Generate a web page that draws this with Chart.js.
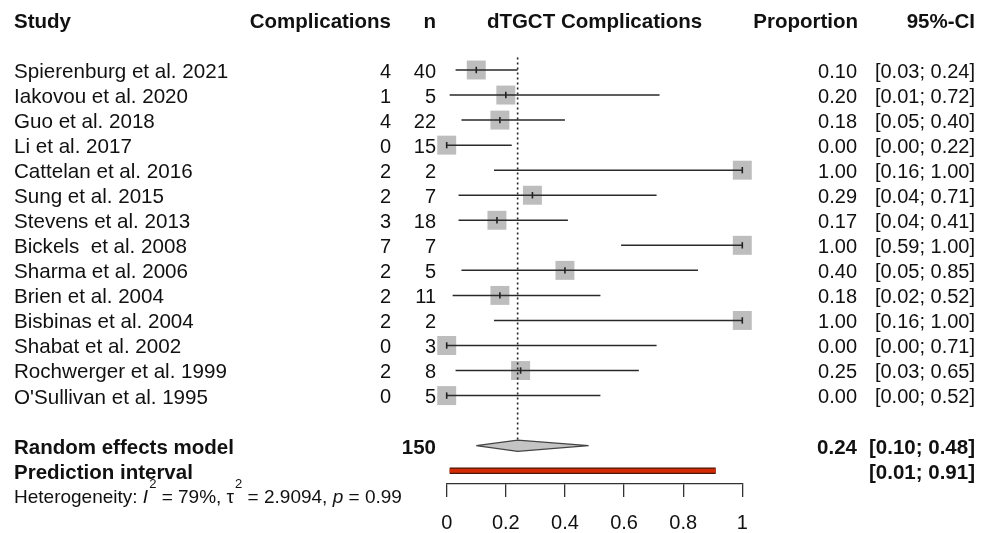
<!DOCTYPE html>
<html>
<head>
<meta charset="utf-8">
<script src="https://cdn.jsdelivr.net/npm/chart.js@4.4.1/dist/chart.umd.min.js"></script>
<style>
  html, body { margin: 0; padding: 0; background: #fff; }
  #wrap { position: relative; width: 993px; height: 533px; }
</style>
</head>
<body>
<div id="wrap"><canvas id="chart"></canvas></div>
<script>
// study rows, top to bottom
const studies = [
  'Spierenburg et al. 2021', 'Iakovou et al. 2020', 'Guo et al. 2018', 'Li et al. 2017',
  'Cattelan et al. 2016', 'Sung et al. 2015', 'Stevens et al. 2013', 'Bickels  et al. 2008',
  'Sharma et al. 2006', 'Brien et al. 2004', 'Bisbinas et al. 2004', 'Shabat et al. 2002',
  'Rochwerger et al. 1999', "O'Sullivan et al. 1995"
];
const events = [4, 1, 4, 0, 2, 2, 3, 7, 2, 2, 2, 0, 2, 0];
const totals = [40, 5, 22, 15, 2, 7, 18, 7, 5, 11, 2, 3, 8, 5];
const proportion = [0.10, 0.20, 0.18, 0.00, 1.00, 0.29, 0.17, 1.00, 0.40, 0.18, 1.00, 0.00, 0.25, 0.00];
const ciLower = [0.03, 0.01, 0.05, 0.00, 0.16, 0.04, 0.04, 0.59, 0.05, 0.02, 0.16, 0.00, 0.03, 0.00];
const ciUpper = [0.24, 0.72, 0.40, 0.22, 1.00, 0.71, 0.41, 1.00, 0.85, 0.52, 1.00, 0.71, 0.65, 0.52];

// pooled estimate + prediction interval
const reEstimate = 0.24;
const reLower = 0.10;
const reUpper = 0.48;
const piLower = 0.01;
const piUpper = 0.91;

// heterogeneity stats
const i2 = '79%';
const tau2 = '2.9094';
const pValue = '0.99';

const xTicks = [0, 0.2, 0.4, 0.6, 0.8, 1];

const FONT = '"Liberation Sans", Arial, Helvetica, sans-serif';
const reRow = studies.length + 1;
const piRow = studies.length + 2;
const diamondHalf = 0.225;

// one line dataset for all CIs, broken by null points
const ciData = [];
studies.forEach((s, i) => {
  ciData.push({ x: ciLower[i], y: i }, { x: ciUpper[i], y: i }, { x: null, y: null });
});
const estData = proportion.map((p, i) => ({ x: p, y: i }));

function txt(ctx, s, x, y, align, bold, size) {
  ctx.font = (bold ? 'bold ' : '') + size + 'px ' + FONT;
  ctx.textAlign = align;
  ctx.textBaseline = 'alphabetic';
  ctx.fillText(s, x, y + size * 0.36 + 0.5);
}

const columns = {
  id: 'columns',
  afterDatasetsDraw(chart) {
    const ctx = chart.ctx;
    const y = chart.scales.y;
    const x = chart.scales.x;
    ctx.save();
    ctx.fillStyle = '#111';

    // header
    const hy = y.getPixelForValue(-2);
    txt(ctx, 'Study', 14, hy, 'left', true, 20.5);
    txt(ctx, 'Complications', 391, hy, 'right', true, 20.5);
    txt(ctx, 'n', 436, hy, 'right', true, 20.5);
    txt(ctx, 'dTGCT Complications', x.getPixelForValue(0.5), hy, 'center', true, 20.5);
    txt(ctx, 'Proportion', 858, hy, 'right', true, 20.5);
    txt(ctx, '95%-CI', 975, hy, 'right', true, 20.5);

    studies.forEach((s, i) => {
      const ry = y.getPixelForValue(i);
      txt(ctx, s, 14, ry, 'left', false, 20.6);
      txt(ctx, String(events[i]), 391, ry, 'right', false, 20);
      txt(ctx, String(totals[i]), 436, ry, 'right', false, 20);
      txt(ctx, proportion[i].toFixed(2), 857, ry, 'right', false, 20);
      txt(ctx, '[' + ciLower[i].toFixed(2) + '; ' + ciUpper[i].toFixed(2) + ']', 975, ry, 'right', false, 20);
    });

    const ry = y.getPixelForValue(reRow);
    txt(ctx, 'Random effects model', 14, ry, 'left', true, 20.5);
    txt(ctx, String(totals.reduce((a, b) => a + b, 0)), 436, ry, 'right', true, 20.5);
    txt(ctx, reEstimate.toFixed(2), 857, ry, 'right', true, 20.5);
    txt(ctx, '[' + reLower.toFixed(2) + '; ' + reUpper.toFixed(2) + ']', 975, ry, 'right', true, 20.5);

    const py = y.getPixelForValue(piRow);
    txt(ctx, 'Prediction interval', 14, py, 'left', true, 20.5);
    txt(ctx, '[' + piLower.toFixed(2) + '; ' + piUpper.toFixed(2) + ']', 975, py, 'right', true, 20.5);

    // heterogeneity line with italics and superscripts
    const base = y.getPixelForValue(piRow + 1) + 19 * 0.36 + 0.5;
    const parts = [
      ['Heterogeneity: ', ''], ['I', 'italic '], ['2', 'sup'], [' = ' + i2 + ', ', ''],
      ['\u03c4', ''], ['2', 'sup'], [' = ' + tau2 + ', ', ''], ['p', 'italic '], [' = ' + pValue, '']
    ];
    let cx = 14;
    ctx.textAlign = 'left';
    ctx.textBaseline = 'alphabetic';
    parts.forEach(([s, st]) => {
      if (st === 'sup') {
        ctx.font = '13px ' + FONT;
        ctx.fillText(s, cx + 1, base - 15);
        cx += ctx.measureText(s).width + 1;
      } else {
        ctx.font = st + '19px ' + FONT;
        ctx.fillText(s, cx, base);
        cx += ctx.measureText(s).width;
      }
    });
    ctx.restore();
  }
};

new Chart(document.getElementById('chart'), {
  type: 'line',
  data: {
    datasets: [
      {
        // diamond
        data: [
          { x: reLower, y: reRow }, { x: reEstimate, y: reRow - diamondHalf },
          { x: reUpper, y: reRow }, { x: reEstimate, y: reRow + diamondHalf },
          { x: reLower, y: reRow }
        ],
        borderColor: '#444', borderWidth: 1.2, backgroundColor: '#c4c4c4',
        fill: 'shape', pointRadius: 0, tension: 0, clip: false, order: 0
      },
      {
        // estimate tick marks
        data: estData, showLine: false, pointStyle: 'line', rotation: 90,
        pointRadius: 3.2, pointBorderWidth: 1.6, pointBorderColor: '#222', clip: false, order: 1
      },
      {
        data: ciData, borderColor: '#2a2a2a', borderWidth: 1.5, pointRadius: 0,
        spanGaps: false, clip: false, order: 2
      },
      {
        // prediction interval, red bar with dark edge
        data: [{ x: piLower, y: piRow }, { x: piUpper, y: piRow }],
        borderColor: '#d22b05', borderWidth: 4, pointRadius: 0, clip: false, order: 3
      },
      {
        data: [{ x: piLower, y: piRow }, { x: piUpper, y: piRow }],
        borderColor: '#4b1608', borderWidth: 6.5, pointRadius: 0, clip: false, order: 4
      },
      {
        // dotted line at pooled estimate
        data: [{ x: reEstimate, y: -0.5 }, { x: reEstimate, y: reRow - diamondHalf }],
        borderColor: '#222', borderWidth: 1.6, borderDash: [2, 3], pointRadius: 0, clip: false, order: 5
      },
      {
        // study squares
        data: estData, showLine: false, pointStyle: 'rect', pointRadius: 13.4,
        pointBackgroundColor: '#bdbdbd', pointBorderWidth: 0, clip: false, order: 6
      }
    ]
  },
  options: {
    responsive: true,
    maintainAspectRatio: false,
    animation: false,
    events: [],
    // top padding matches the overflow chart.js reserves for the square points
    layout: { padding: { left: 446.7, right: 250.7, top: 13.4, bottom: 0 } },
    plugins: { legend: { display: false }, tooltip: { enabled: false } },
    scales: {
      x: {
        type: 'linear', min: 0, max: 1,
        afterBuildTicks: s => { s.ticks = xTicks.map(v => ({ value: v })); },
        afterFit: s => { s.height = 49; },
        grid: { drawOnChartArea: false, drawTicks: true, tickLength: 13, color: '#333', lineWidth: 1.3 },
        border: { display: true, color: '#333', width: 1.3 },
        ticks: { callback: v => String(v), color: '#111', font: { family: FONT, size: 20 }, padding: 14, maxRotation: 0 }
      },
      y: { type: 'linear', reverse: true, min: -2.26, max: 16.53, display: false }
    }
  },
  plugins: [columns]
});
</script>
</body>
</html>
